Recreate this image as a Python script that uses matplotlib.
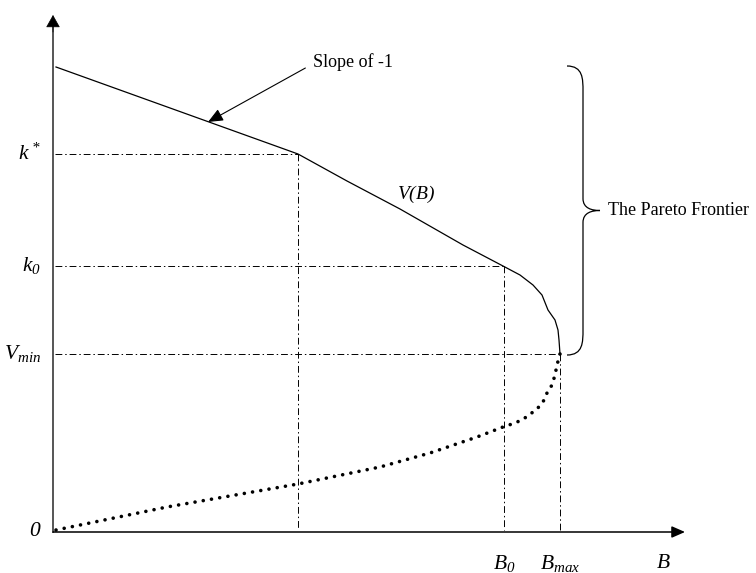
import matplotlib
matplotlib.use("Agg")
import matplotlib.pyplot as plt
from matplotlib.path import Path
from matplotlib.patches import PathPatch

plt.rcParams["font.family"] = ["Liberation Serif", "DejaVu Serif"]
plt.rcParams["mathtext.fontset"] = "custom"
plt.rcParams["mathtext.rm"] = "Liberation Serif:italic"
plt.rcParams["mathtext.it"] = "Liberation Serif:italic"

# key levels (B on x, value on y)
B_kink, k_star = 2.45, 3.78
B_0, k_0 = 4.51, 2.66
B_max, V_min = 5.07, 1.78
V_top = 4.65

# the frontier V(B), solid
frontier_B = [0.03, 2.45, 2.94, 3.47, 4.10, 4.50, 4.67, 4.80, 4.89, 4.95, 5.02, 5.05, 5.06, 5.07]
frontier_V = [4.65, 3.78, 3.51, 3.23, 2.87, 2.66, 2.57, 2.47, 2.37, 2.22, 2.12, 2.02, 1.92, 1.78]

# lower branch, dotted
lower_B = [0.03, 1.14, 2.45, 3.27, 3.77, 4.24, 4.37, 4.50, 4.59, 4.69, 4.76, 4.84,
           4.90, 4.94, 4.99, 5.02, 5.04, 5.07]
lower_V = [0.02, 0.25, 0.48, 0.65, 0.79, 0.95, 1.00, 1.05, 1.08, 1.12, 1.17, 1.23,
           1.30, 1.39, 1.47, 1.57, 1.67, 1.78]

y_ticks = [k_star, k_0, V_min, 0.0]
y_labels = [r"$k^*$", r"$k_0$", r"$V_{min}$", r"$0$"]
x_ticks = [B_0, B_max, 6.10]
x_labels = [r"$B_0$", r"$B_{max}$", r"$B$"]

fig = plt.figure(figsize=(7.56, 5.73), dpi=100)
ax = fig.add_axes([0, 0, 1, 1])
ax.set_xlim(-0.53, 7.03)
ax.set_ylim(-0.41, 5.32)
ax.axis("off")

# axes with arrow heads
ax.plot([0, 0], [0, 5.05], color="#555555", lw=1.4)
ax.annotate("", xy=(0, 5.17), xytext=(0, 5.0),
            arrowprops=dict(arrowstyle="-|>,head_length=0.8,head_width=0.45",
                            color="black", lw=0.5, shrinkA=0, shrinkB=0))
ax.annotate("", xy=(6.32, 0), xytext=(0, 0),
            arrowprops=dict(arrowstyle="-|>,head_length=0.8,head_width=0.35",
                            color="black", lw=1.1, shrinkA=0, shrinkB=0))

# guide lines
dash_dot = (0, (7, 3, 1.5, 3))
for bx, vy in [(B_kink, k_star), (B_0, k_0), (B_max, V_min)]:
    ax.plot([0.02, bx], [vy, vy], color="black", lw=0.7, linestyle=dash_dot)
    ax.plot([bx, bx], [vy, 0.02], color="black", lw=0.7, linestyle=dash_dot)

ax.plot(frontier_B, frontier_V, color="black", lw=0.9, solid_joinstyle="round")
ax.plot(lower_B, lower_V, color="black", lw=2.6,
        linestyle=(0, (0.01, 2.3)), dash_capstyle="round")

# tick labels
for y, lab in zip(y_ticks, y_labels):
    ax.text(-0.12, y, lab, fontsize=15.5, ha="right", va="center")
for x, lab in zip(x_ticks, x_labels):
    ax.text(x, -0.32, lab, fontsize=15.5, ha="center", va="center")

ax.text(3.63, 3.38, r"$V(B)$", fontsize=14, ha="center", va="center")

ax.annotate("Slope of -1", xy=(1.55, 4.10), xytext=(2.60, 4.70),
            fontsize=13, va="center", ha="left",
            arrowprops=dict(arrowstyle="-|>,head_length=0.7,head_width=0.3",
                            color="black", lw=0.8, shrinkA=4, shrinkB=0,
                            relpos=(0, 0.4)))

# curly brace over the frontier
bx0 = B_max + 0.07
bx1 = bx0 + 0.16
tip = bx1 + 0.17
mid = (V_top + V_min) / 2
r = 0.12
verts = [(bx0, V_top + 0.01), (bx1, V_top + 0.01), (bx1, V_top - r), (bx1, V_top - 2 * r),
         (bx1, mid + r),
         (bx1, mid + 0.02), (tip - 0.08, mid), (tip, mid),
         (tip - 0.08, mid), (bx1, mid - 0.02), (bx1, mid - r),
         (bx1, V_min + 2 * r),
         (bx1, V_min + r), (bx1, V_min - 0.01), (bx0, V_min - 0.01)]
codes = [Path.MOVETO, Path.CURVE4, Path.CURVE4, Path.CURVE4,
         Path.LINETO,
         Path.CURVE4, Path.CURVE4, Path.CURVE4,
         Path.CURVE4, Path.CURVE4, Path.CURVE4,
         Path.LINETO,
         Path.CURVE4, Path.CURVE4, Path.CURVE4]
ax.add_patch(PathPatch(Path(verts, codes), fill=False, color="black", lw=0.9))
ax.text(tip + 0.08, mid, "The Pareto Frontier", fontsize=13, ha="left", va="center")

fig.savefig("out.png", dpi=100)
